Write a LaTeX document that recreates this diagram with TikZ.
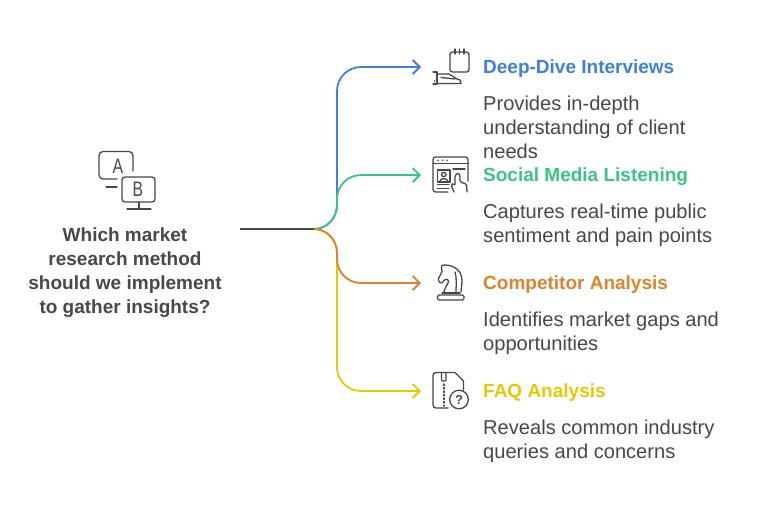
\documentclass[tikz,border=0pt]{standalone}
\usepackage{fontspec}
\setmainfont{Liberation Sans}
\usetikzlibrary{arrows.meta}
\definecolor{inkgray}{HTML}{484848}
\definecolor{branchblue}{HTML}{3F7FE2}
\definecolor{branchgreen}{HTML}{3AC585}
\definecolor{branchorange}{HTML}{E0812E}
\definecolor{branchyellow}{HTML}{E8C900}
\tikzset{
  branch/.style={line width=1.8pt,-{Straight Barb[length=7pt,width=14pt,line width=1.8pt]}},
  icon/.style={draw=inkgray,line width=1.3pt,line cap=round,line join=round},
  heading/.style={anchor=base west,inner sep=0pt,font=\fontsize{19}{24}\selectfont\bfseries},
  detail/.style={anchor=north west,inner sep=0pt,align=left,text=inkgray,font=\fontsize{20.1}{24}\selectfont},
  iconletter/.style={inner sep=0pt,text=inkgray,xscale=0.75,font=\fontsize{21}{21}\selectfont},
}
\begin{document}
\begin{tikzpicture}[x=1pt,y=-1pt]
  \useasboundingbox (0,0) rectangle (758,512);
  \fill[white] (0,0) rectangle (758,512);

  \coordinate (root) at (240,229);
  \coordinate (hub) at (314,229);
  \coordinate (tipinterviews) at (421,67);
  \coordinate (tiplistening) at (421,175);
  \coordinate (tipcompetitor) at (421,283);
  \coordinate (tipfaq) at (421,391);

  \draw[branch,draw=branchblue] (hub) to[out=0,in=-90] (337,205) -- (337,91) to[out=90,in=180] (361,67) -- (tipinterviews);
  \draw[branch,draw=branchgreen] (hub) to[out=0,in=-90] (337,205) -- (337,199) to[out=90,in=180] (361,175) -- (tiplistening);
  \draw[branch,draw=branchyellow] (hub) to[out=0,in=90] (337,253) -- (337,367) to[out=-90,in=180] (361,391) -- (tipfaq);
  \draw[branch,draw=branchorange] (hub) to[out=0,in=90] (337,253) -- (337,259) to[out=-90,in=180] (361,283) -- (tipcompetitor);
  \draw[line width=1.8pt,draw=inkgray] (root) -- (hub);

  \node[inner sep=0pt,align=center,text=inkgray,font=\fontsize{19}{24}\selectfont\bfseries] (question) at (125,273)
    {Which market\\research method\\should we implement\\to gather insights?};

  \node[heading,text=branchblue] (interviews) at (483,73.5) {Deep-Dive Interviews};
  \node[detail] (interviewstext) at (483,96) {Provides in-depth\\understanding of client\\needs};
  \node[heading,text=branchgreen] (listening) at (483,181.5) {Social Media Listening};
  \node[detail] (listeningtext) at (483,204) {Captures real-time public\\sentiment and pain points};
  \node[heading,text=branchorange] (competitor) at (483,289.5) {Competitor Analysis};
  \node[detail] (competitortext) at (483,312) {Identifies market gaps and\\opportunities};
  \node[heading,text=branchyellow] (faq) at (483,397.5) {FAQ Analysis};
  \node[detail] (faqtext) at (483,420) {Reveals common industry\\queries and concerns};

  % A/B icon
  \draw[icon,rounded corners=4pt] (133,171) -- (133,151.5) -- (99,151.5) -- (99,179) -- (117,179);
  \draw[icon] (106,187) -- (117,187);
  \draw[icon,rounded corners=3pt] (122,177) rectangle (155,202);
  \draw[icon] (139,202) -- (139,209) (127,209) -- (151,209);
  \node[iconletter] (lettera) at (118,166) {A};
  \node[iconletter] (letterb) at (138,189.5) {B};

  % notepad and hand
  \draw[icon,rounded corners=2.5pt] (450,52) rectangle (469,72);
  \draw[icon] (455,49) -- (455,54) (459.5,49) -- (459.5,54) (464,49) -- (464,54);
  \draw[icon] (433,72) -- (437,72) -- (437,84) -- (433,84);
  \draw[icon] (437,74) -- (449,74) -- (457,79) -- (460,80) -- (461,83.5) -- (437,83.5);
  \draw[icon] (441,77.5) -- (455,79);
  \fill[inkgray] (434.5,81) circle (0.9pt);

  % browser and pointer
  \draw[icon,rounded corners=2.5pt] (448,192) -- (433,192) -- (433,157) -- (468,157) -- (468,181);
  \draw[icon] (433,163.5) -- (468,163.5);
  \fill[inkgray] (438,160.2) circle (0.8pt) (442.5,160.2) circle (0.8pt) (447,160.2) circle (0.8pt);
  \draw[icon] (437.5,170) rectangle (450,182);
  \draw[icon] (443.7,174.5) circle (2.2pt);
  \draw[icon] (439.5,182) .. controls (439.5,177.5) and (448,177.5) .. (448,182);
  \draw[icon] (437.5,184.5) -- (449,184.5) (437.5,188.5) -- (449,188.5);
  \draw[icon] (453,169) -- (465,169);
  \draw[icon,rounded corners=1.5pt] (454,192) -- (451,185) -- (453,183) -- (455,186) -- (455,175) -- (458.5,173) -- (460,175) -- (460,182) -- (466.5,184) -- (467,192);

  % knight
  \draw[icon,rounded corners=1.5pt] (437.5,295) rectangle (464,300);
  \draw[icon] (442,293) -- (460,293);
  \draw[icon,rounded corners=1.5pt] (444,292) .. controls (445,287) and (448,284) .. (449,280) -- (445,279) -- (441,284) -- (438,280) .. controls (439,276) and (442,274) .. (442,270) -- (441,265.5) .. controls (450,264) and (462,268) .. (462,282) -- (461,292);
  \draw[icon] (455,272) .. controls (457,278) and (456,286) .. (456,292);

  % zip file and question mark
  \draw[icon,rounded corners=3pt] (448,408) -- (433,408) -- (433,372.5) -- (455,372.5);
  \draw[icon] (455,372.5) -- (463.5,381) -- (463.5,390);
  \draw[icon,rounded corners=1pt] (441.5,372.5) -- (441.5,381) -- (446,381) -- (446,372.5);
  \draw[icon,dash pattern=on 1.5pt off 2pt] (444,384) -- (444,406);
  \draw[icon] (459,399.5) circle (9.3pt);
  \node[inner sep=0pt,text=inkgray,font=\fontsize{13}{13}\selectfont\bfseries] (faqmark) at (459,399.5) {?};
\end{tikzpicture}
\end{document}
